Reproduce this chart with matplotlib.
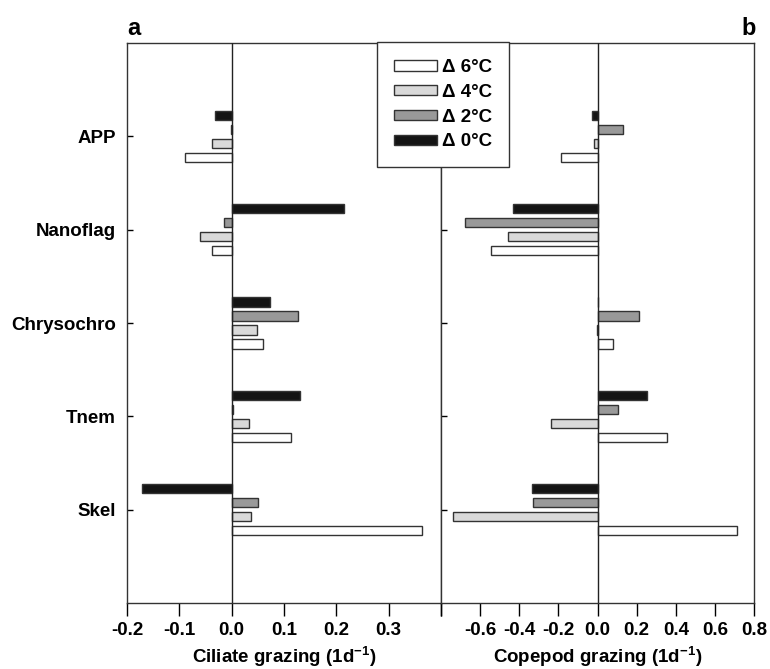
import matplotlib
matplotlib.use('Agg')
import matplotlib.pyplot as plt
import numpy as np

plt.rcParams['font.family'] = ['Liberation Sans', 'DejaVu Sans']
plt.rcParams['font.weight'] = 'bold'
plt.rcParams['axes.labelweight'] = 'bold'
plt.rcParams['font.size'] = 13.5
plt.rcParams['mathtext.fontset'] = 'custom'
plt.rcParams['mathtext.rm'] = 'Liberation Sans:bold'
plt.rcParams['mathtext.bf'] = 'Liberation Sans:bold'
plt.rcParams['mathtext.it'] = 'Liberation Sans:bold'
plt.rcParams['axes.unicode_minus'] = False

# categories, bottom to top
categories = ['Skel', 'Tnem', 'Chrysochro', 'Nanoflag', 'APP']
temps = ['\u0394 6\u00b0C', '\u0394 4\u00b0C', '\u0394 2\u00b0C', '\u0394 0\u00b0C']

# ciliate grazing (1/d)
ciliate_d6 = [0.364, 0.114, 0.060, -0.038, -0.090]
ciliate_d4 = [0.036, 0.033, 0.049, -0.060, -0.038]
ciliate_d2 = [0.051, 0.002, 0.127, -0.015, -0.002]
ciliate_d0 = [-0.171, 0.130, 0.073, 0.214, -0.032]

# copepod grazing (1/d)
copepod_d6 = [0.711, 0.357, 0.080, -0.544, -0.186]
copepod_d4 = [-0.737, -0.239, -0.005, -0.458, -0.019]
copepod_d2 = [-0.328, 0.104, 0.210, -0.675, 0.132]
copepod_d0 = [-0.333, 0.255, 0.003, -0.431, -0.027]

colors = ['#ffffff', '#d9d9d9', '#999999', '#141414']
offsets = [-0.225, -0.075, 0.075, 0.225]
edge = '#333333'

fig = plt.figure(figsize=(7.7, 6.69), dpi=100)
W, H = 770, 669
ax1 = fig.add_axes([127 / W, 66 / H, 314 / W, 560 / H])
ax2 = fig.add_axes([441 / W, 66 / H, 313 / W, 560 / H])

y = np.arange(1, len(categories) + 1)


def draw(ax, series):
    for vals, c, off, lab in zip(series, colors, offsets, temps):
        ax.barh(y + off, vals, height=0.1, color=c, edgecolor=edge,
                linewidth=1, label=lab, zorder=3)
    ax.axvline(0, color='#222222', lw=1, zorder=4)
    ax.set_ylim(0, 6)
    ax.set_yticks(y)
    for s in ax.spines.values():
        s.set_color('#333333')
        s.set_linewidth(1)
    ax.tick_params(axis='y', direction='in', length=4, width=1, pad=8)
    ax.tick_params(axis='x', direction='out', length=9, width=1, pad=5)


draw(ax1, [ciliate_d6, ciliate_d4, ciliate_d2, ciliate_d0])
draw(ax2, [copepod_d6, copepod_d4, copepod_d2, copepod_d0])

ax1.set_xlim(-0.2, 0.4)
ax1.set_xticks([-0.2, -0.1, 0.0, 0.1, 0.2, 0.3, 0.4])
ax1.set_xticklabels(['-0.2', '-0.1', '0.0', '0.1', '0.2', '0.3', ''])
ax1.set_yticklabels(categories)
ax1.set_xlabel(r'Ciliate grazing (1d$^{-1}$)', labelpad=4)

ax2.set_xlim(-0.8, 0.8)
ax2.set_xticks([-0.8, -0.6, -0.4, -0.2, 0.0, 0.2, 0.4, 0.6, 0.8])
ax2.set_xticklabels(['', '-0.6', '-0.4', '-0.2', '0.0', '0.2', '0.4', '0.6', '0.8'])
ax2.set_yticklabels([])
ax2.set_xlabel(r'Copepod grazing (1d$^{-1}$)', labelpad=4)

fig.text(127 / W, 1 - 35 / H, 'a', fontsize=17, fontweight='bold', ha='left', va='baseline')
fig.text(756 / W, 1 - 35 / H, 'b', fontsize=17, fontweight='bold', ha='right', va='baseline')

h, l = ax1.get_legend_handles_labels()
leg = fig.legend(h, l, loc='upper left', bbox_to_anchor=(377 / W, 1 - 42 / H),
                 frameon=True, fancybox=False, framealpha=1, edgecolor='#333333',
                 handlelength=2.3, handleheight=0.5, labelspacing=0.42,
                 borderpad=0.9, handletextpad=0.25, borderaxespad=0,
                 prop={'weight': 'bold', 'size': 13.5})
leg.get_frame().set_linewidth(1)
leg.set_zorder(10)

fig.savefig('out.png', dpi=100)
